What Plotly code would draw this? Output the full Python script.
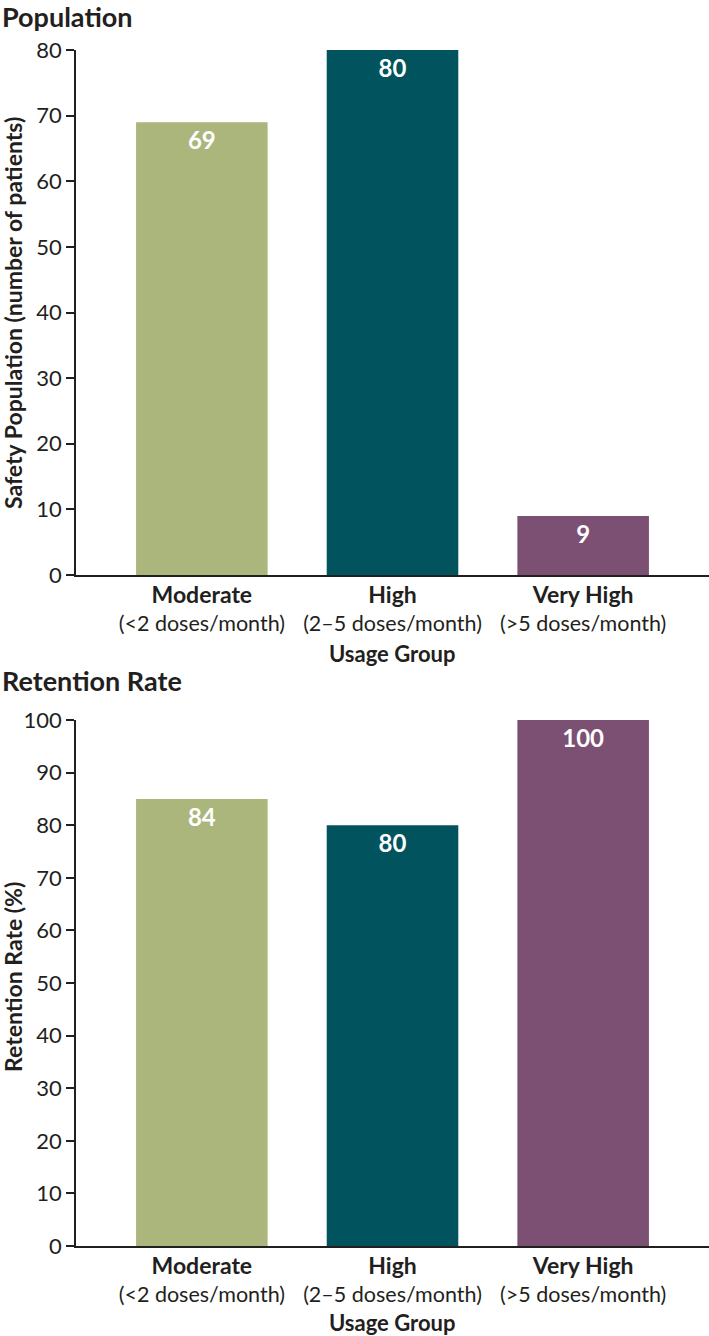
import plotly.graph_objects as go

groups = ["Moderate", "High", "Very High"]
dose_ranges = ["(<2 doses/month)", "(2\u20135 doses/month)", "(>5 doses/month)"]
population = [69, 80, 9]
population_labels = ["69", "80", "9"]
retention = [85, 80, 100]
retention_labels = ["84", "80", "100"]
colors = ["#abb67d", "#01545e", "#7b5072"]

W, H = 709, 1336
L = 76
FONT = "Lato"
INK = "#231f20"

def py(p):
    return 1 - p / H

def px(p):
    return (p - L) / (W - L)

fig = go.Figure()
for vals, labs, xa, ya in [(population, population_labels, "x", "y"),
                           (retention, retention_labels, "x2", "y2")]:
    fig.add_trace(go.Bar(x=groups, y=vals, text=labs, marker_color=colors,
                         marker_line_width=0, textposition="inside", insidetextanchor="end",
                         textangle=0,
                         textfont=dict(family=FONT, size=24, color="white", weight="bold"),
                         xaxis=xa, yaxis=ya, hoverinfo="skip"))

ticktext = [f"<span style='font-size:23px'><b>{g}</b></span><br>{d}"
            for g, d in zip(groups, dose_ranges)]
xcommon = dict(range=[-0.66, 2.66], showline=True, linecolor=INK, linewidth=1.5,
               ticks="", tickmode="array", tickvals=groups, ticktext=ticktext,
               tickfont=dict(family=FONT, size=21.5, color=INK), showgrid=False,
               zeroline=False, automargin=False, fixedrange=True)
ycommon = dict(showline=True, linecolor=INK, linewidth=1.5, ticks="outside", ticklen=8,
               tickwidth=1.5, tickcolor=INK, dtick=10,
               tickfont=dict(family=FONT, size=22, color=INK), showgrid=False,
               zeroline=False, automargin=False, fixedrange=True)

fig.update_layout(
    width=W, height=H, margin=dict(l=L, r=0, t=0, b=0),
    paper_bgcolor="white", plot_bgcolor="white", showlegend=False,
    bargap=0.31, font=dict(family=FONT, color=INK),
    xaxis=dict(xcommon, domain=[0, 1], anchor="y"),
    yaxis=dict(ycommon, range=[0, 80], domain=[py(575), py(50)], anchor="x"),
    xaxis2=dict(xcommon, domain=[0, 1], anchor="y2"),
    yaxis2=dict(ycommon, range=[0, 100], domain=[py(1246), py(720)], anchor="x2"),
)

ann = [
    dict(text="<b>Population</b>", x=px(0), y=py(17), xanchor="left", yanchor="middle",
         font=dict(size=27)),
    dict(text="<b>Retention Rate</b>", x=px(0), y=py(680), xanchor="left", yanchor="middle",
         font=dict(size=27)),
    dict(text="<b>Safety Population (number of patients)</b>", x=px(13), y=py(313),
         textangle=-90, xanchor="center", yanchor="middle", font=dict(size=23)),
    dict(text="<b>Retention Rate (%)</b>", x=px(13), y=py(977),
         textangle=-90, xanchor="center", yanchor="middle", font=dict(size=23)),
    dict(text="<b>Usage Group</b>", x=px(392), y=py(653), xanchor="center", yanchor="middle",
         font=dict(size=22)),
    dict(text="<b>Usage Group</b>", x=px(392), y=py(1322), xanchor="center", yanchor="middle",
         font=dict(size=22)),
]
for a in ann:
    a.update(xref="paper", yref="paper", showarrow=False)
    a["font"].update(family=FONT, color=INK)
fig.update_layout(annotations=ann)

fig.write_html("out.html", config={"displayModeBar": False},
               post_script="document.body.style.margin='0';")
